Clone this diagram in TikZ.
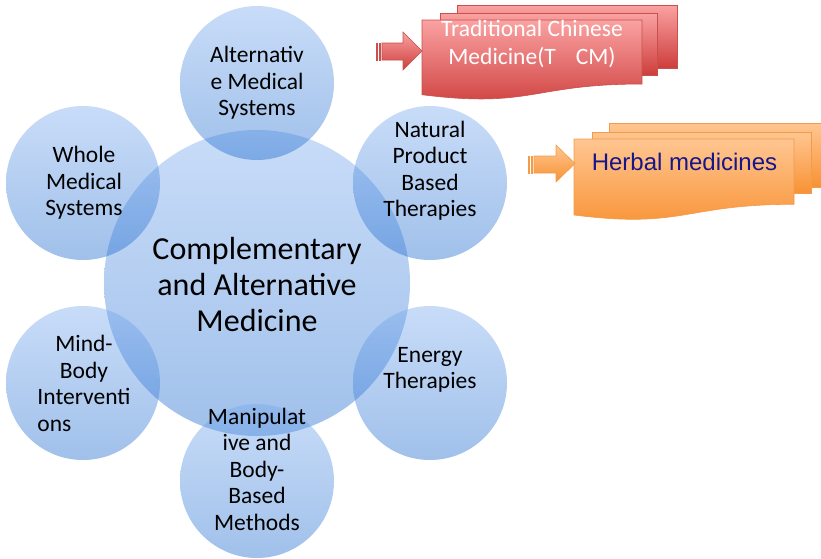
\documentclass[tikz,border=0pt]{standalone}
\usepackage{fontspec}
\setmainfont{Carlito}
\newfontfamily\arialfont{Liberation Sans}
\definecolor{btop}{RGB}{118,168,238}
\definecolor{bbot}{RGB}{18,98,203}
\definecolor{rtop}{RGB}{250,162,162}
\definecolor{rbot}{RGB}{205,62,60}
\definecolor{rdraw}{RGB}{200,80,77}
\definecolor{otop}{RGB}{255,198,145}
\definecolor{obot}{RGB}{248,146,52}
\definecolor{odraw}{RGB}{242,155,75}
\definecolor{navy}{RGB}{22,22,140}
\tikzset{
  bubble/.style={circle, minimum size=#1, inner sep=0pt, draw=none,
    top color=btop, bottom color=bbot, fill opacity=0.4},
  smalltxt/.style={align=center, inner sep=0pt, text=black,
    font=\fontsize{23.5}{26.5}\selectfont},
  bigtxt/.style={align=center, inner sep=0pt, text=black,
    font=\fontsize{32}{36}\selectfont},
  redpage/.style={top color=rtop, bottom color=rbot, draw=rdraw, line width=0.6pt},
  orangepage/.style={top color=otop, bottom color=obot, draw=odraw, line width=0.6pt}
}
\begin{document}
\begin{tikzpicture}[x=1pt,y=-1pt]
\useasboundingbox (0,0) rectangle (821,558);
% circles
\node[bubble=306pt] (c) at (257,283) {};
\node[bubble=154pt] (s1) at (257,83) {};
\node[bubble=154pt] (s2) at (430,183) {};
\node[bubble=154pt] (s3) at (430,383) {};
\node[bubble=154pt] (s4) at (257,481) {};
\node[bubble=154pt] (s5) at (83,383) {};
\node[bubble=154pt] (s6) at (83,183) {};
% texts
\node[bigtxt] (tc) at (257,284) {Complementary\\and Alternative\\Medicine};
\node[smalltxt] (t1) at (257,83) {Alternativ\\e Medical\\Systems};
\node[smalltxt] (t2) at (430,170.5) {Natural\\Product\\Based\\Therapies};
\node[smalltxt] (t3) at (430,370) {Energy\\Therapies};
\node[smalltxt] (t4) at (257,469) {Manipulat\\ive and\\Body-\\Based\\Methods};
\node[smalltxt] (t5) at (84,383.5) {Mind-\\Body\\Interventi\\\rlap{ons}\phantom{Interventi}};
\node[smalltxt] (t6) at (84,183) {Whole\\Medical\\Systems};
% red multidocument
\shade[redpage] (457,5) rectangle (677,68);
\shade[redpage] (440,13) rectangle (657,75);
\shade[redpage] (422,20) -- (642,20) -- (642,84) .. controls (532,84) and (532,108.6) .. (422,94.7) -- cycle;
% red striped arrow
\shade[redpage] (376,43) rectangle (377.5,60);
\shade[redpage] (379,43) rectangle (380.5,60);
\shade[redpage] (382,43) -- (403,43) -- (403,32) -- (422,51) -- (403,70) -- (403,60) -- (382,60) -- cycle;
\node[text=white, inner sep=0pt, align=center, font=\fontsize{23.5}{28}\selectfont] (tcm) at (532,44)
  {Traditional Chinese\\Medicine(T\hspace{20pt}CM)};
% orange multidocument
\shade[orangepage] (609,123) rectangle (829,187);
\shade[orangepage] (592,132) rectangle (811,193);
\shade[orangepage] (574,139) -- (794,139) -- (794,204.3) .. controls (684,204.3) and (684,229) .. (574,215) -- cycle;
% orange striped arrow
\shade[orangepage] (528,156) rectangle (529.5,173);
\shade[orangepage] (531,156) rectangle (532.5,173);
\shade[orangepage] (534,156) -- (556,156) -- (556,145) -- (575,163.5) -- (556,182) -- (556,173) -- (534,173) -- cycle;
\node[text=navy, inner sep=0pt, font=\arialfont\fontsize{24}{28}\selectfont] (herb) at (684.5,162) {Herbal medicines};
\end{tikzpicture}
\end{document}
